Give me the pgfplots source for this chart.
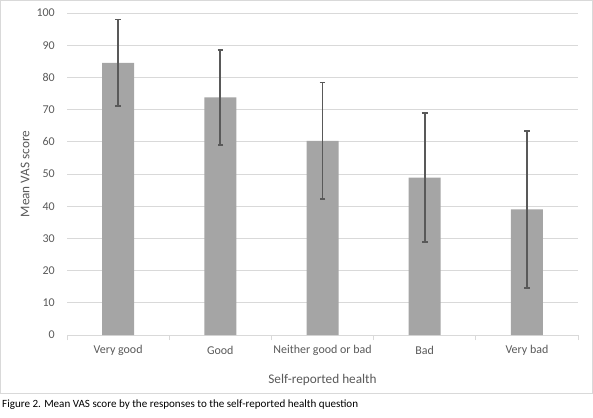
\documentclass[border=0pt]{standalone}
\usepackage{pgfplots}
\pgfplotsset{compat=1.18}
\usepackage{fontspec}
\setmainfont{Carlito}
\definecolor{barc}{HTML}{A5A5A5}
\definecolor{errc}{HTML}{595959}
\definecolor{gridc}{HTML}{D9D9D9}
\definecolor{txtc}{HTML}{595959}
\begin{document}
\begin{tikzpicture}[x=1bp,y=1bp]
\path[use as bounding box] (0,0) rectangle (593,417);
\draw[gridc, line width=0.8bp] (0.5,24) rectangle (592.5,416.5);
\begin{axis}[
  at={(67bp,82bp)}, anchor=south west,
  width=511bp, height=322bp, scale only axis,
  xmin=-0.5, xmax=4.5, ymin=0, ymax=100,
  ytick={0,10,...,100},
  xtick={0,1,2,3,4},
  xticklabels={Very good,Good,Neither good or bad,Bad,Very bad},
  minor xtick={-0.5,0.5,1.5,2.5,3.5,4.5},
  major tick length=0pt,
  minor tick length=5bp,
  minor tick style={gridc, line width=0.8bp},
  axis x line*=bottom, axis y line*=left,
  x axis line style={gridc, line width=0.8bp, -},
  y axis line style={draw=none},
  ymajorgrids, grid style={gridc, line width=0.8bp},
  xticklabel style={font=\fontsize{12}{14}\selectfont, text=txtc, anchor=center, inner sep=0pt, yshift=-15bp},
  yticklabel style={font=\fontsize{12}{14}\selectfont, text=txtc, anchor=east, inner sep=0pt, xshift=-12bp},
  /pgf/number format/assume math mode=true,
  xlabel={Self-reported health},
  ylabel={Mean VAS score},
  every axis x label/.style={at={(axis description cs:0.5,0)}, anchor=center, yshift=-45bp, font=\fontsize{13.3}{15}\selectfont, text=txtc},
  every axis y label/.style={at={(axis description cs:0,0.5)}, anchor=center, rotate=90, yshift=42bp, font=\fontsize{13.3}{15}\selectfont, text=txtc},
  tick align=outside,
]
\addplot[ybar, bar width=32bp, fill=barc, draw=none,
  error bars/.cd, y dir=both, y explicit,
  error bar style={draw=errc, line width=1.8bp},
  error mark=-,
  error mark options={rotate=90, draw=errc, line width=1.8bp, mark size=2.8bp}]
  coordinates {
    (0,84.5) +- (0,13.5)
    (1,73.8) +- (0,14.8)
    (2,60.3) +- (0,18.1)
    (3,48.9) +- (0,20.1)
    (4,39.0) +- (0,24.4)
  };
\end{axis}
\node[anchor=west, font=\fontsize{11.1}{13}\selectfont, inner sep=0pt] at (2,12) {Figure 2. Mean VAS score by the responses to the self-reported health question};
\end{tikzpicture}
\end{document}
